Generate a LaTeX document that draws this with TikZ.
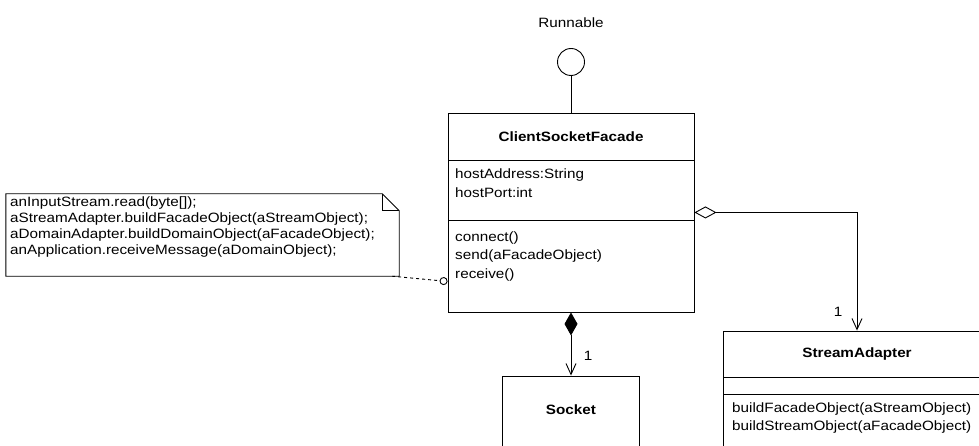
\documentclass[tikz,border=0pt]{standalone}
\usepackage{fontspec}
\setmainfont{Liberation Sans}[FakeStretch=1.13]
\usetikzlibrary{calc,arrows.meta}

\tikzset{
  compart/.style={draw, rectangle, inner sep=0pt, line width=0.9pt},
  member/.style={anchor=west, inner sep=0pt, font=\fontsize{13.5}{15}\selectfont},
  clsname/.style={inner sep=0pt, font=\fontsize{13.5}{15}\selectfont\bfseries},
  mult/.style={inner sep=0pt, font=\fontsize{13.5}{15}\selectfont},
  link/.style={line width=0.9pt},
}

\begin{document}
\begin{tikzpicture}[x=1pt,y=-1pt]
        \useasboundingbox (0,0) rectangle (979,446);

        % ClientSocketFacade class
        \node[compart, minimum width=246pt, minimum height=47pt] (facade) at (571,136.5) {};
        \node[clsname] (facadeLbl) at (571,136.5) {ClientSocketFacade};
        \node[compart, minimum width=246pt, minimum height=60pt] (facadeAttr) at (571,190) {};
        \node[compart, minimum width=246pt, minimum height=92pt] (facadeOps) at (571,266) {};
        \node[member] (hostAddr) at (455,175) {hostAddress:String};
        \node[member] (hostPort) at (455,193) {hostPort:int};
        \node[member] (opConnect) at (455,238) {connect()};
        \node[member] (opSend) at (455,256) {send(aFacadeObject)};
        \node[member] (opReceive) at (455,275) {receive()};

        % Runnable interface (lollipop)
        \node[mult] (runLbl) at (571,23) {Runnable};
        \node[draw, circle, minimum size=27pt, inner sep=0pt, line width=0.9pt] (runIf) at (571,62) {};
        \draw[link] (runIf.south) -- (facade.north);

        % Note
        \node[minimum width=393pt, minimum height=82pt, inner sep=0pt] (note) at (202.5,235) {};
        \draw[link] (note.north west) -- ($(note.north east)+(-17,0)$) -- ($(note.north east)+(0,17)$)
              -- (note.south east) -- (note.south west) -- cycle;
        \draw[link] ($(note.north east)+(-17,0)$) -- ($(note.north east)+(-17,17)$) -- ($(note.north east)+(0,17)$);
        \node[member] (nl1) at (10,203) {anInputStream.read(byte[]);};
        \node[member] (nl2) at (10,219) {aStreamAdapter.buildFacadeObject(aStreamObject);};
        \node[member] (nl3) at (10,235) {aDomainAdapter.buildDomainObject(aFacadeObject);};
        \node[member] (nl4) at (10,251) {anApplication.receiveMessage(aDomainObject);};
        \coordinate (noteEnd) at ($(note.south east)+(-7,0)$);
        \coordinate (recvPt) at ($(facadeOps.south west)+(0,-31)$);
        \draw[link, dashed, -{Circle[open,length=8pt,width=8pt]}] (noteEnd) -- (recvPt);

        % StreamAdapter class
        \node[compart, minimum width=268pt, minimum height=46pt] (stream) at (857,354) {};
        \node[clsname] (streamLbl) at (857,354) {StreamAdapter};
        \node[compart, minimum width=268pt, minimum height=17pt] (streamAttr) at (857,385.5) {};
        \node[compart, minimum width=268pt, minimum height=72pt] (streamOps) at (857,430) {};
        \node[member] (opBuildFacade) at (732,409) {buildFacadeObject(aStreamObject)};
        \node[member] (opBuildStream) at (732,427) {buildStreamObject(aFacadeObject)};

        % Socket class
        \node[compart, minimum width=137pt, minimum height=100pt] (socket) at (571,426) {};
        \node[clsname] (socketLbl) at (571,410) {Socket};

        % aggregation to StreamAdapter
        \coordinate (aggStart) at ($(facadeAttr.south east)+(0,-8)$);
        \draw[link, {Diamond[open,length=22pt,width=12pt]}-{Straight Barb[length=11pt,width=10pt]}]
              (aggStart) -| (stream.north);
        \node[mult] (multStream) at (838,312) {1};

        % composition to Socket
        \draw[link, {Diamond[length=23pt,width=13pt]}-{Straight Barb[length=11pt,width=10pt]}]
              (facadeOps.south) -- (socket.north);
        \node[mult] (multSocket) at (588,356) {1};
\end{tikzpicture}
\end{document}
